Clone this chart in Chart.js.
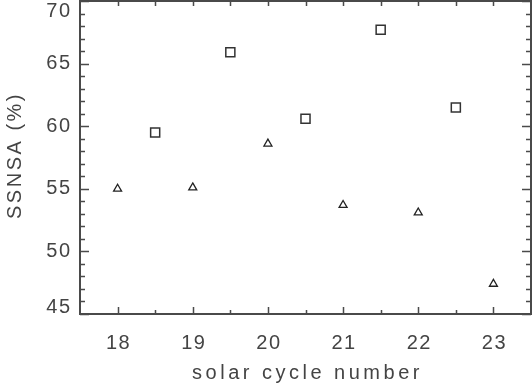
<!DOCTYPE html>
<html>
<head>
<meta charset="utf-8">
<script src="https://cdn.jsdelivr.net/npm/chart.js@4.4.1/dist/chart.umd.min.js"></script>
<style>
  html, body { margin: 0; padding: 0; background: #fff; }
  #wrap { width: 532px; height: 387px; }
</style>
</head>
<body>
<div id="wrap"><canvas id="chart"></canvas></div>
<script>
// values
const cycleNumbers = [18, 19, 20, 21, 22, 23];
const triangleValues = [55.0, 55.1, 58.6, 53.7, 53.1, 47.4];
const halfCycles = [18.5, 19.5, 20.5, 21.5, 22.5];
const squareValues = [59.5, 65.9, 60.6, 67.7, 61.5];

const xTickLabels = [18, 19, 20, 21, 22, 23];
const xMinorTicks = [18.5, 19.5, 20.5, 21.5, 22.5];
const yTickLabels = [45, 50, 55, 60, 65, 70];
const yMinorTicks = [];
for (let v = 46; v < 70; v++) if (v % 5 !== 0) yMinorTicks.push(v);

const xTitle = 'solar cycle number';
const yTitle = 'SSNSA (%)';

const axisColor = '#4a4a4a';
const textColor = '#444';
const font = '20px "Liberation Sans", Arial, sans-serif';

const toPoints = (xs, ys) => xs.map((v, i) => ({ x: v, y: ys[i] }));

// IDL style box with inward ticks on all four sides
const idlFrame = {
  id: 'idlFrame',
  afterDraw(chart) {
    const { ctx, chartArea: a, scales: { x, y } } = chart;
    ctx.save();
    ctx.strokeStyle = axisColor;
    ctx.lineWidth = 2;
    ctx.strokeRect(a.left, a.top, a.right - a.left, a.bottom - a.top);

    ctx.lineWidth = 1.5;
    ctx.beginPath();
    xTickLabels.forEach(v => {
      const px = Math.round(x.getPixelForValue(v)) + 0.5;
      ctx.moveTo(px, a.bottom); ctx.lineTo(px, a.bottom - 7);
      ctx.moveTo(px, a.top); ctx.lineTo(px, a.top + 5);
    });
    xMinorTicks.forEach(v => {
      const px = Math.round(x.getPixelForValue(v)) + 0.5;
      ctx.moveTo(px, a.bottom); ctx.lineTo(px, a.bottom - 4);
      ctx.moveTo(px, a.top); ctx.lineTo(px, a.top + 5);
    });
    yTickLabels.forEach(v => {
      const py = Math.round(y.getPixelForValue(v)) + 0.5;
      ctx.moveTo(a.left, py); ctx.lineTo(a.left + 9, py);
      ctx.moveTo(a.right, py); ctx.lineTo(a.right - 9, py);
    });
    yMinorTicks.forEach(v => {
      const py = Math.round(y.getPixelForValue(v)) + 0.5;
      ctx.moveTo(a.left, py); ctx.lineTo(a.left + 5, py);
      ctx.moveTo(a.right, py); ctx.lineTo(a.right - 5, py);
    });
    ctx.stroke();

    ctx.fillStyle = textColor;
    ctx.font = font;
    ctx.letterSpacing = '1.5px';
    ctx.textBaseline = 'middle';

    ctx.textAlign = 'right';
    yTickLabels.forEach(v => {
      let py = y.getPixelForValue(v);
      py = Math.min(Math.max(py, a.top + 10), a.bottom - 7);
      ctx.fillText(String(v), 71.5, py);
    });

    ctx.textAlign = 'center';
    xTickLabels.forEach(v => {
      ctx.fillText(String(v), x.getPixelForValue(v) + 1, 343);
    });

    ctx.letterSpacing = '3.5px';
    ctx.fillText(xTitle, (a.left + a.right) / 2 + 2, 373);

    ctx.translate(15, (a.top + a.bottom) / 2);
    ctx.rotate(-Math.PI / 2);
    ctx.letterSpacing = '2.5px';
    ctx.fillText(yTitle, 2, 0);
    ctx.restore();
  }
};

new Chart(document.getElementById('chart'), {
  type: 'scatter',
  data: {
    datasets: [
      {
        label: 'integer cycles',
        data: toPoints(cycleNumbers, triangleValues),
        pointStyle: 'triangle',
        pointRadius: 4.6,
        borderColor: '#222',
        backgroundColor: 'rgba(0,0,0,0)',
        borderWidth: 1.3
      },
      {
        label: 'half cycles',
        data: toPoints(halfCycles, squareValues),
        pointStyle: 'rect',
        pointRadius: 6.4,
        borderColor: '#333',
        backgroundColor: 'rgba(0,0,0,0)',
        borderWidth: 1.5
      }
    ]
  },
  options: {
    responsive: true,
    maintainAspectRatio: false,
    animation: false,
    layout: { autoPadding: false, padding: { top: 1, right: 1, left: 0, bottom: 0 } },
    plugins: { legend: { display: false }, tooltip: { enabled: false } },
    scales: {
      x: {
        type: 'linear',
        min: 17.5,
        max: 23.5,
        grid: { display: false },
        border: { display: false },
        ticks: { display: false },
        afterFit: s => { s.height = 73; }
      },
      y: {
        min: 45,
        max: 70,
        grid: { display: false },
        border: { display: false },
        ticks: { display: false },
        afterFit: s => { s.width = 80; }
      }
    }
  },
  plugins: [idlFrame]
});
</script>
</body>
</html>
